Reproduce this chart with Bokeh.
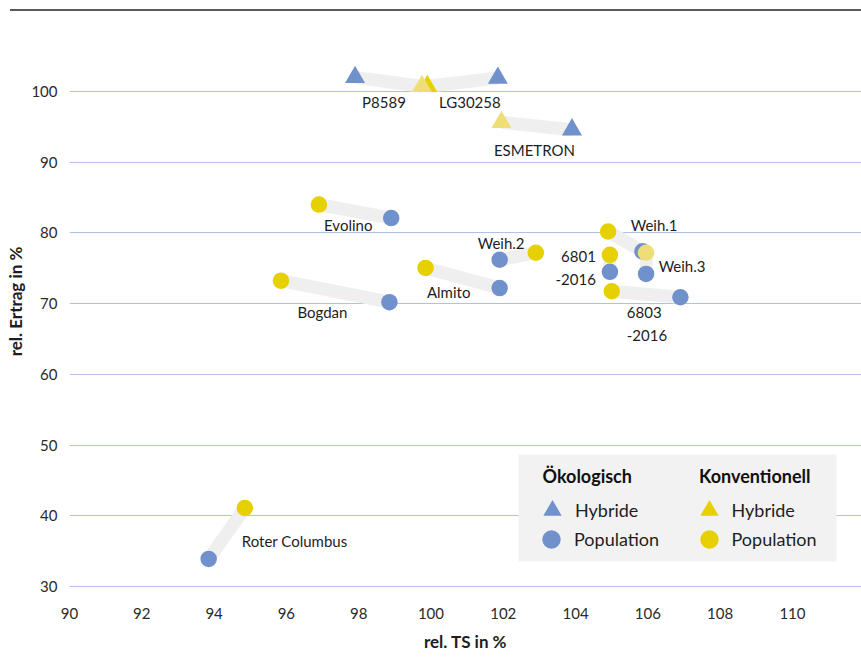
from bokeh.plotting import figure
from bokeh.models import (ColumnDataSource, Range1d, FixedTicker, Legend, LegendItem,
                          Div, Label, BoxAnnotation)
from bokeh.layouts import column
from bokeh.core.properties import value
from bokeh.embed import file_html
from bokeh.resources import INLINE

# ---------------- data ----------------
sorten = ["LG30258", "P8589", "ESMETRON", "Evolino", "Bogdan", "Almito", "Weih.2",
          "Weih.1", "6801\n-2016", "Weih.3", "6803\n-2016", "Roter Columbus"]
typ = ["Hybride", "Hybride", "Hybride", "Population", "Population", "Population",
       "Population", "Population", "Population", "Population", "Population", "Population"]
oeko_ts = [101.85, 97.9, 103.9, 98.9, 98.85, 101.9, 101.9, 105.85, 104.95, 105.95, 106.9, 93.85]
oeko_ertrag = [101.9, 102.0, 94.6, 82.1, 70.2, 72.2, 76.2, 77.4, 74.5, 74.2, 70.9, 33.9]
konv_ts = [99.9, 99.75, 101.95, 96.9, 95.85, 99.85, 102.9, 104.9, 104.95, 105.95, 105.0, 94.85]
konv_ertrag = [100.75, 100.75, 95.65, 84.0, 73.25, 75.05, 77.2, 80.2, 76.9, 77.2, 71.75, 41.1]
konv_blass = [False, True, True, False, False, False, False, False, False, True, False, False]

x_ticks = [90, 92, 94, 96, 98, 100, 102, 104, 106, 108, 110]
y_ticks = [30, 40, 50, 60, 70, 80, 90, 100]

# ---------------- style ----------------
FONT = "Lato"
BLUE = "#7191CC"
YELLOW = "#E6D000"
PALE = "#EFDE78"
BAND = "#EFEFEF"
GRID = "#B3C0E6"
TXT = "#1E1E1E"

W, H = 861, 647
ML, MB, MT = 69, 68, 1
X0, X1 = 90.0, 111.91
Y0, Y1 = 29.43, 111.17
px_x = (W - ML) / (X1 - X0)
px_y = (H - MB - MT) / (Y1 - Y0)

p = figure(width=W, height=H, x_range=Range1d(X0, X1), y_range=Range1d(Y0, Y1),
           output_backend="svg", toolbar_location=None,
           min_border_left=ML, min_border_right=0, min_border_top=MT, min_border_bottom=MB,
           outline_line_color=None, background_fill_color="white", border_fill_color="white")

# axes
for ax in (p.xaxis[0], p.yaxis[0]):
    ax.axis_line_color = None
    ax.major_tick_line_color = None
    ax.minor_tick_line_color = None
    ax.major_label_text_font = FONT
    ax.major_label_text_font_size = "15px"
    ax.major_label_text_color = "#2a2a2a"
    ax.axis_label_text_font = FONT
    ax.axis_label_text_font_size = "17px"
    ax.axis_label_text_font_style = "bold"
    ax.axis_label_text_color = TXT
p.xaxis.ticker = FixedTicker(ticks=x_ticks)
p.yaxis.ticker = FixedTicker(ticks=y_ticks)
p.xaxis.axis_label = "rel. TS in %"
p.yaxis.axis_label = "rel. Ertrag in %"
p.xaxis.major_label_standoff = 11
p.xaxis.axis_label_standoff = 9
p.yaxis.major_label_standoff = 6
p.yaxis.axis_label_standoff = 2
p.xgrid.grid_line_color = None
p.ygrid.grid_line_color = GRID
p.ygrid.grid_line_width = 1

# bands
band_src = ColumnDataSource(dict(ox=oeko_ts, oy=oeko_ertrag, kx=konv_ts, ky=konv_ertrag))
p.segment(x0="ox", y0="oy", x1="kx", y1="ky", source=band_src,
          line_width=13, line_color=BAND, line_cap="butt")

def sub(lst, idx):
    return [lst[i] for i in idx]

ih = [i for i, t in enumerate(typ) if t == "Hybride"]
ip = [i for i, t in enumerate(typ) if t == "Population"]
konv_farbe = [PALE if b else YELLOW for b in konv_blass]

src_ot = ColumnDataSource(dict(x=sub(oeko_ts, ih), y=sub(oeko_ertrag, ih)))
src_oc = ColumnDataSource(dict(x=sub(oeko_ts, ip), y=sub(oeko_ertrag, ip)))
src_kt = ColumnDataSource(dict(x=sub(konv_ts, ih), y=sub(konv_ertrag, ih), c=sub(konv_farbe, ih)))
src_kc = ColumnDataSource(dict(x=sub(konv_ts, ip), y=sub(konv_ertrag, ip), c=sub(konv_farbe, ip)))

TRI, CIR = 20, 16.5
r_ot = p.scatter("x", "y", source=src_ot, marker="triangle", size=TRI, fill_color=BLUE, line_color=None)
r_oc = p.scatter("x", "y", source=src_oc, marker="circle", size=CIR, fill_color=BLUE, line_color=None)
r_kt = p.scatter("x", "y", source=src_kt, marker="triangle", size=TRI, fill_color="c", line_color=None)
r_kc = p.scatter("x", "y", source=src_kc, marker="circle", size=CIR, fill_color="c", line_color=None)

# labels: anchor, dx (px right), dy (px down), align
label_layout = {
    "LG30258": ("konv", 42.5, 15.5, "center"),
    "P8589": ("konv", -38, 15.5, "center"),
    "ESMETRON": ("oeko", -37.5, 20, "center"),
    "Evolino": ("oeko", -43, 6.5, "center"),
    "Bogdan": ("oeko", -67, 10, "center"),
    "Almito": ("oeko", -51, 4, "center"),
    "Weih.2": ("oeko", 1.5, -17, "center"),
    "Weih.1": ("konv", 46, -6, "center"),
    "6801\n-2016": ("konv", -14, 12.5, "right"),
    "Weih.3": ("oeko", 36, -7.5, "center"),
    "6803\n-2016": ("oeko", -53.6, 26, "left"),
    "Roter Columbus": ("konv", -3, 33, "left"),
}
lx, ly, lt, la = [], [], [], []
for i, name in enumerate(sorten):
    anc, dx, dy, al = label_layout[name]
    bx, by = (oeko_ts[i], oeko_ertrag[i]) if anc == "oeko" else (konv_ts[i], konv_ertrag[i])
    lx.append(bx + dx / px_x)
    ly.append(by - dy / px_y)
    lt.append(name)
    la.append(al)
p.text(x="x", y="y", text="t", text_align="a",
       source=ColumnDataSource(dict(x=lx, y=ly, t=lt, a=la)),
       text_font=value(FONT), text_font_size="15px", text_color=TXT,
       text_baseline="middle", text_line_height=1.3)

# legend background + headers (screen px relative to frame bottom-left)
p.add_layout(BoxAnnotation(left=449, right=767, bottom=29, top=136,
                           left_units="screen", right_units="screen",
                           top_units="screen", bottom_units="screen",
                           fill_color="#F2F2F2", fill_alpha=1, line_color=None))
for txt, x in (("Ökologisch", 473), ("Konventionell", 629.5)):
    p.add_layout(Label(x=x, y=115, x_units="screen", y_units="screen", text=txt,
                       text_font=FONT, text_font_size="18px", text_font_style="bold",
                       text_color="#111111", text_baseline="middle"))

GB = 46
leg_common = dict(glyph_width=GB, glyph_height=GB, spacing=0, padding=0, margin=0,
                  label_standoff=0, label_text_font=FONT, label_text_font_size="18px",
                  label_text_color=TXT, background_fill_alpha=0, border_line_color=None,
                  orientation="vertical")
legend_cells = [
    ("Hybride", r_ot, 552, 509.5),
    ("Population", r_oc, 551, 539),
    ("Hybride", r_kt, 708.5, 509.5),
    ("Population", r_kc, 708.5, 539),
]
for lab, rend, cx, cy in legend_cells:
    leg = Legend(items=[LegendItem(label=lab, renderers=[rend], index=0)],
                 location=(cx - GB / 2 - ML, 590 - (cy + GB / 2)), **leg_common)
    p.add_layout(leg)

rule = Div(text="", width=851, height=2, margin=(9, 0, 0, 10),
           styles={"background-color": "#595959"})
layout = column(rule, p, spacing=0)

open("out.html", "w").write(file_html(layout, INLINE))
